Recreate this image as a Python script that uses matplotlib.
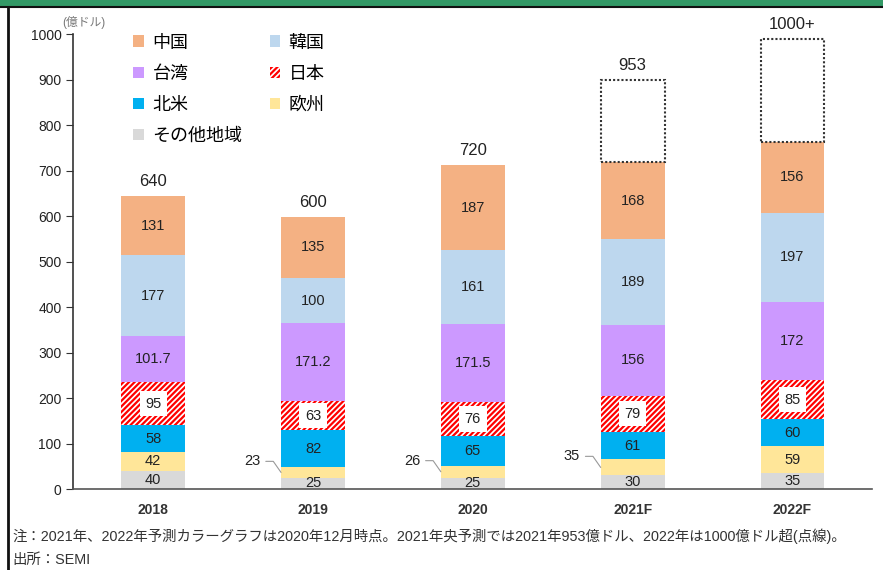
import numpy as np
import matplotlib
matplotlib.use("Agg")
import matplotlib.pyplot as plt
from matplotlib.patches import Rectangle, Patch

plt.rcParams['font.family'] = ['Liberation Sans', 'Noto Sans CJK JP']
plt.rcParams['hatch.linewidth'] = 1.6

# data (億ドル), stacked bottom -> top
years = ["2018", "2019", "2020", "2021F", "2022F"]
other = [40, 25, 25, 30, 35]        # その他地域
europe = [42, 23, 26, 35, 59]       # 欧州
namerica = [58, 82, 65, 61, 60]     # 北米
japan = [95, 63, 76, 79, 85]        # 日本
taiwan = [101.7, 171.2, 171.5, 156, 172]  # 台湾
korea = [177, 100, 161, 189, 197]   # 韓国
china = [131, 135, 187, 168, 156]   # 中国
total_labels = ["640", "600", "720", "953", "1000+"]
outlook_top = [None, None, None, 900, 990]   # dotted mid-year forecast boxes

series = [
    ("その他地域", other, "#D9D9D9"),
    ("欧州", europe, "#FFE699"),
    ("北米", namerica, "#00B0F0"),
    ("日本", japan, "white"),
    ("台湾", taiwan, "#CC99FF"),
    ("韓国", korea, "#BDD7EE"),
    ("中国", china, "#F4B183"),
]

fig = plt.figure(figsize=(8.83, 5.70), dpi=100)
ax = fig.add_axes([0.083, 0.142, 0.905, 0.798])

x = np.arange(len(years))
w = 0.4
bottom = np.zeros(len(years))
for name, vals, col in series:
    vals = np.array(vals, dtype=float)
    if name == "日本":
        ax.bar(x, vals, w, bottom=bottom, facecolor="white", edgecolor="red",
               hatch="//////", linewidth=0)
    else:
        ax.bar(x, vals, w, bottom=bottom, color=col, linewidth=0)
    for i, v in enumerate(vals):
        lab = ("%g" % v)
        mid = bottom[i] + v / 2
        if name == "欧州" and v < 40:
            ax.annotate(lab, xy=(x[i] - w / 2, mid), xytext=(-15, 8),
                        textcoords="offset points", ha="right", va="center",
                        fontsize=10.5, color="#222222",
                        arrowprops=dict(arrowstyle="-", color="#999999", lw=0.8,
                                        shrinkA=2, shrinkB=0,
                                        connectionstyle="angle,angleA=0,angleB=-55,rad=0"))
        elif name == "日本":
            ax.text(x[i], mid, lab, ha="center", va="center", fontsize=10.5,
                    color="#222222",
                    bbox=dict(facecolor="white", edgecolor="none", pad=4))
        else:
            ax.text(x[i], mid, lab, ha="center", va="center", fontsize=10.5,
                    color="#222222")
    bottom = bottom + vals

# dotted outlook boxes + total labels
for i in range(len(years)):
    top = bottom[i]
    if outlook_top[i] is not None:
        ax.bar(x[i], outlook_top[i] - bottom[i], w, bottom=bottom[i], fill=False,
               edgecolor="#333333", linestyle=(0, (1, 1)), linewidth=1.5)
        top = outlook_top[i]
    ax.annotate(total_labels[i], xy=(x[i], top), xytext=(0, 5),
                textcoords="offset points", ha="center", va="bottom",
                fontsize=12, color="#222222")

ax.set_xlim(-0.5, len(years) - 0.5)
ax.set_ylim(0, 1000)
ax.set_yticks(np.arange(0, 1001, 100))
ax.set_xticks(x)
ax.set_xticklabels(years, fontweight="bold", fontsize=10, color="#333333")
ax.tick_params(axis="y", labelsize=10, length=5, color="#333333", labelcolor="#222222")
ax.tick_params(axis="x", length=0, pad=10)
for s in ["top", "right"]:
    ax.spines[s].set_visible(False)
ax.spines["left"].set_color("#333333")
ax.spines["bottom"].set_color("#555555")
ax.spines["left"].set_linewidth(1.2)
ax.spines["bottom"].set_linewidth(1.2)

order = ["中国", "台湾", "北米", "その他地域", "韓国", "日本", "欧州"]
colors = dict((s[0], s[2]) for s in series)
leg_handles = []
for n in order:
    if n == "日本":
        leg_handles.append(Patch(facecolor="white", edgecolor="red", hatch="//////", linewidth=0))
    else:
        leg_handles.append(Patch(facecolor=colors[n], linewidth=0))
ax.legend(leg_handles, order, ncol=2, loc="upper left", bbox_to_anchor=(0.055, 1.035),
          frameon=False, fontsize=13, handlelength=0.6, handleheight=0.6,
          handletextpad=0.45, columnspacing=1.5, labelspacing=0.78)

fig.text(0.070, 0.955, "(億ドル)", fontsize=8.5, color="#777777", ha="left")

# header strip and frame line
fig.add_artist(Rectangle((0, 0.988), 1, 0.012, transform=fig.transFigure,
                         facecolor="#339966", edgecolor="none"))
fig.add_artist(plt.Line2D([0, 1], [0.987, 0.987], transform=fig.transFigure,
                          color="#111111", lw=1.5))
fig.add_artist(plt.Line2D([0.009, 0.009], [0, 0.987], transform=fig.transFigure,
                          color="#111111", lw=2))

fig.text(0.014, 0.050, "注：2021年、2022年予測カラーグラフは2020年12月時点。2021年央予測では2021年953億ドル、2022年は1000億ドル超(点線)。",
         fontsize=10.4, color="#333333")
fig.text(0.014, 0.010, "出所：SEMI", fontsize=10.4, color="#333333")

fig.savefig("out.png", dpi=100)
